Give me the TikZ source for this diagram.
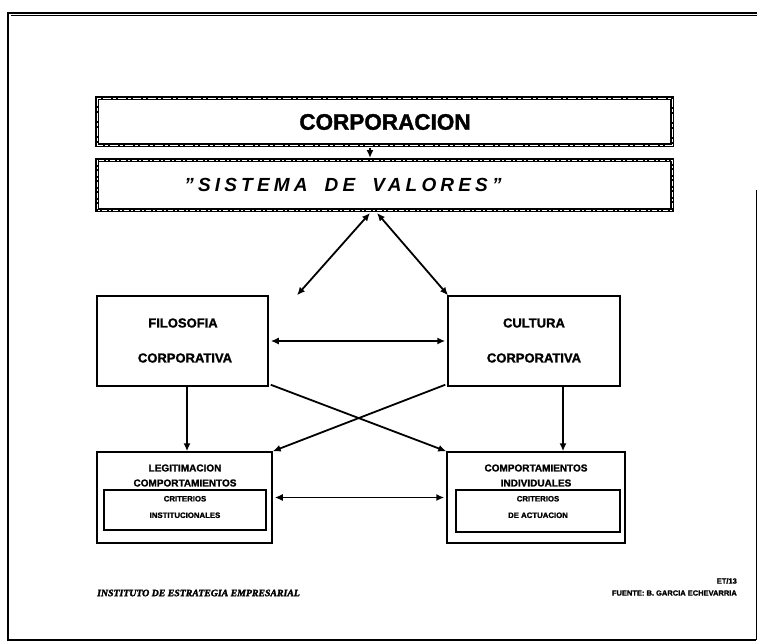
\documentclass[tikz,border=0pt]{standalone}
\usepackage{fontspec}
\setmainfont{Liberation Sans}[BoldFeatures={FakeBold=1.4}]
\newfontfamily\footserif{Liberation Serif}[BoldItalicFeatures={FakeBold=2.2}]
\usetikzlibrary{arrows.meta,calc}
\begin{document}
\begin{tikzpicture}[x=1pt,y=-1pt,
  hatchbox/.style={draw=black,line width=4.4pt},
  hatchmark/.style={draw=white,line width=0.6pt},
  plainbox/.style={draw=black,line width=1.5pt},
  innerbox/.style={draw=black,line width=1.1pt},
  tip/.tip={Latex[length=8pt,width=7pt]},
  link/.style={line width=1.8pt,-tip},
  dlink/.style={line width=1.8pt,tip-tip},
  lbl/.style={font=\bfseries, align=center, inner sep=0pt}]
\useasboundingbox (0,0) rectangle (758,642);
\fill[white] (0,0) rectangle (758,642);

% page frame
\draw[line width=2.6pt] (757,13) -- (8,13) -- (8,640) -- (756,640);
\draw[line width=0.6pt] (10.5,15.5) -- (757,15.5);
\draw[line width=1pt] (756,190) -- (756,640);

% two framed headline boxes
\draw[hatchbox] (97,98) rectangle (672,145);
\draw[hatchmark,dash pattern=on 8pt off 2pt on 3pt off 2pt] (97,98) rectangle (672,145);
\node[lbl,font=\fontsize{22.5}{26}\selectfont\bfseries] (corp) at (385,122) {CORPORACION};
\coordinate (corpS) at (370,147.5);

\draw[hatchbox] (97,160) rectangle (672,210);
\draw[hatchmark,dash pattern=on 5pt off 2pt on 2pt off 2pt] (97,160) rectangle (672,210);
\node[lbl,font=\fontsize{19}{22}\selectfont\bfseries\itshape\addfontfeature{LetterSpace=22}] (sist) at (343,185)
  {"SISTEMA\hspace{0.9em}DE\hspace{0.9em}VALORES"};
\coordinate (sistN) at (370,158);
\coordinate (sistSL) at (370,213);
\coordinate (sistSR) at (377,213);

% middle level
\node[plainbox,minimum width=171pt,minimum height=90pt,inner sep=0pt] (filo) at (182.5,341) {};
\node[lbl,font=\fontsize{13}{15}\selectfont\bfseries] at (183,323) {FILOSOFIA};
\node[lbl,font=\fontsize{13}{15}\selectfont\bfseries] at (185,358) {CORPORATIVA};

\node[plainbox,minimum width=172pt,minimum height=90pt,inner sep=0pt] (cult) at (534,341) {};
\node[lbl,font=\fontsize{13}{15}\selectfont\bfseries] at (534,323) {CULTURA};
\node[lbl,font=\fontsize{13}{15}\selectfont\bfseries] at (534,358) {CORPORATIVA};

% lower level
\node[plainbox,minimum width=175pt,minimum height=91pt,inner sep=0pt] (legi) at (184.5,497.5) {};
\node[lbl,font=\fontsize{10}{15}\selectfont\bfseries] at (185,475.5) {LEGITIMACION\\COMPORTAMIENTOS};
\node[innerbox,minimum width=162pt,minimum height=40pt,inner sep=0pt] (legiIn) at (185,510) {};
\node[lbl,font=\fontsize{7.8}{16.5}\selectfont\bfseries] at (185,507) {CRITERIOS\\INSTITUCIONALES};

\node[plainbox,minimum width=178pt,minimum height=91pt,inner sep=0pt] (comp) at (536,497.5) {};
\node[lbl,font=\fontsize{10}{15}\selectfont\bfseries] at (536,475.5) {COMPORTAMIENTOS\\INDIVIDUALES};
\node[innerbox,minimum width=164pt,minimum height=42pt,inner sep=0pt] (compIn) at (538,511) {};
\draw[line width=1.8pt] (compIn.north east) -- (compIn.south east) -- (compIn.south west);
\node[lbl,font=\fontsize{7.8}{16.5}\selectfont\bfseries] at (538,507) {CRITERIOS\\DE ACTUACION};

% connectors
\draw[link] (corpS) -- (sistN);
\draw[dlink] (sistSL) -- ([xshift=114.5pt]filo.north);
\draw[dlink] (sistSR) -- ([xshift=-86pt]cult.north);
\draw[dlink] ([xshift=2pt]filo.east) -- ([xshift=-2pt]cult.west);
\draw[link] ([xshift=4.5pt]filo.south) -- ([xshift=2.5pt]legi.north);
\draw[link] ([xshift=29pt]cult.south) -- ([xshift=27pt]comp.north);
\draw[link] ([shift={(2pt,2pt)}]filo.south east) -- (comp.north west);
\draw[link] ([shift={(-2pt,2pt)}]cult.south west) -- (legi.north east);
\draw[dlink] ([xshift=2pt]legi.east) -- ([xshift=-2pt]comp.west);

% footer
\node[lbl,anchor=west,font=\footserif\fontsize{9.8}{11}\selectfont\bfseries\itshape] (inst) at (97,593) {INSTITUTO DE ESTRATEGIA EMPRESARIAL};
\node[lbl,anchor=east,font=\fontsize{7.5}{9}\selectfont\bfseries] (et) at (737,581) {ET/13};
\node[lbl,anchor=east,font=\fontsize{7.5}{9}\selectfont\bfseries] (fuente) at (737,593) {FUENTE: B. GARCIA ECHEVARRIA};
\end{tikzpicture}
\end{document}
